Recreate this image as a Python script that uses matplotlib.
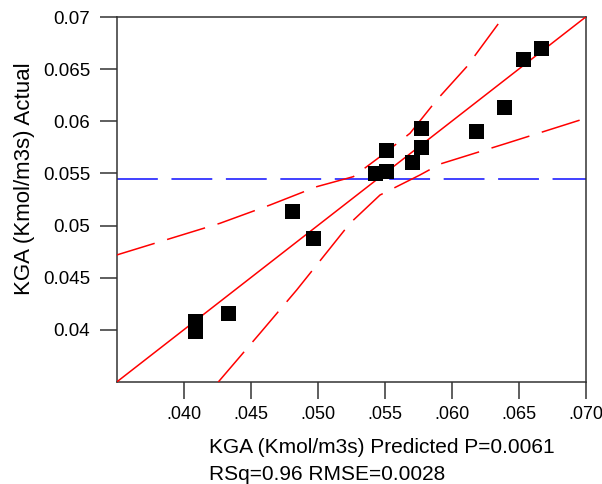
import numpy as np
import matplotlib
matplotlib.use('Agg')
import matplotlib.pyplot as plt

plt.rcParams['font.family'] = ['Liberation Sans', 'DejaVu Sans']

# Actual by predicted data
predicted = [0.04087, 0.04087, 0.04334, 0.04807, 0.04964, 0.05425, 0.05513,
             0.05513, 0.05700, 0.05774, 0.05774, 0.06178, 0.06388, 0.06529, 0.06666]
actual = [0.04087, 0.03985, 0.04160, 0.05135, 0.04885, 0.05500, 0.05522,
          0.05724, 0.05610, 0.05937, 0.05756, 0.05910, 0.06135, 0.06593, 0.06705]

# Confidence curve vertices
upper_x = [0.0350, 0.04271, 0.04644, 0.04993, 0.05266, 0.05465, 0.05689, 0.05888, 0.06112, 0.06385]
upper_y = [0.04718, 0.05022, 0.05197, 0.05373, 0.05469, 0.05660, 0.05885, 0.06204, 0.06523, 0.0700]
lower_x = [0.04258, 0.04569, 0.04843, 0.05092, 0.05241, 0.05465, 0.05763, 0.05913, 0.06410, 0.0700]
lower_y = [0.0350, 0.03967, 0.04382, 0.04782, 0.05022, 0.05293, 0.05485, 0.05590, 0.05789, 0.06029]

lims = [0.035, 0.070]
xticks = [0.040, 0.045, 0.050, 0.055, 0.060, 0.065, 0.070]
xtick_labels = ['.040', '.045', '.050', '.055', '.060', '.065', '.070']
yticks = [0.040, 0.045, 0.050, 0.055, 0.060, 0.065, 0.070]
ytick_labels = ['0.04', '0.045', '0.05', '0.055', '0.06', '0.065', '0.07']

fig = plt.figure(figsize=(6.02, 4.84), dpi=100)
ax = fig.add_axes([116.7 / 602, 1 - 382 / 484, 469 / 602, 365 / 484])

# mean line
ax.plot(lims, [np.mean(actual)] * 2, color='#4040ff', lw=1.4,
        linestyle=(0, (21, 7)), zorder=2)
# fit line (actual = predicted)
ax.plot(lims, lims, color='red', lw=1.1, zorder=3)
# confidence curves
ax.plot(upper_x, upper_y, color='red', lw=1.1, linestyle=(0, (26, 8.5)), zorder=3)
ax.plot(lower_x, lower_y, color='red', lw=1.1, linestyle=(0, (26, 8.5)), zorder=3)
# points
ax.plot(predicted, actual, 's', color='black', ms=10.8, mew=0, zorder=4)

ax.set_xlim(lims)
ax.set_ylim(lims)
ax.set_xticks(xticks)
ax.set_xticklabels(xtick_labels)
ax.set_yticks(yticks)
ax.set_yticklabels(ytick_labels)
ax.tick_params(direction='out', length=12, width=1.1, color='#333333',
               labelsize=13, pad=5)
ax.tick_params(axis='y', labelsize=13.5, pad=7)
for s in ax.spines.values():
    s.set_color('#333333')
    s.set_linewidth(1.1)

fig.text(25 / 602, 1 - 179 / 484, 'KGA (Kmol/m3s) Actual', rotation=90,
         ha='center', va='center', fontsize=16)
fig.text(209 / 602, 1 - 453 / 484, 'KGA (Kmol/m3s) Predicted P=0.0061',
         ha='left', va='baseline', fontsize=15)
fig.text(209 / 602, 1 - 480 / 484, 'RSq=0.96 RMSE=0.0028',
         ha='left', va='baseline', fontsize=15)

fig.savefig('out.png', dpi=100)
